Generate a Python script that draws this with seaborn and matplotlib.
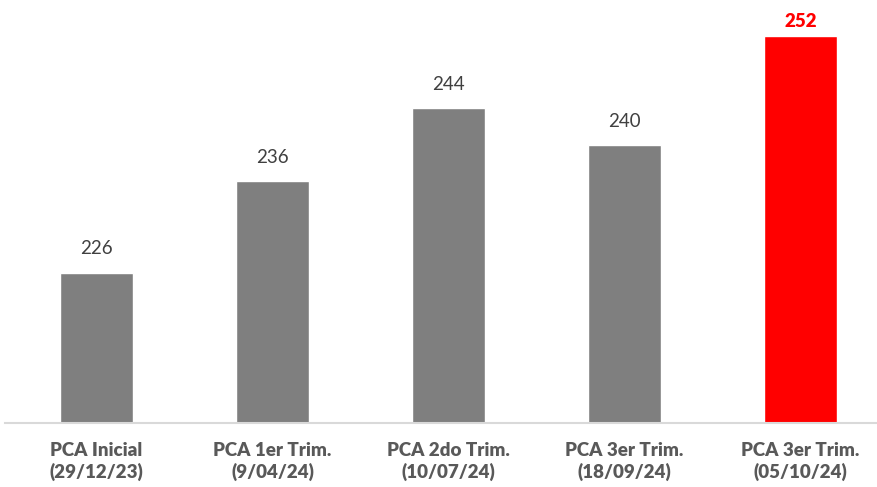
import matplotlib
matplotlib.use("Agg")
import matplotlib.pyplot as plt
import seaborn as sns
import pandas as pd

# Data
categories = ["PCA Inicial\n(29/12/23)", "PCA 1er Trim.\n(9/04/24)", "PCA 2do Trim.\n(10/07/24)",
              "PCA 3er Trim.\n(18/09/24)", "PCA 3er Trim.\n(05/10/24)"]
values = [226, 236, 244, 240, 252]
bar_colors = ["#7f7f7f", "#7f7f7f", "#7f7f7f", "#7f7f7f", "#ff0000"]

sns.set_style("white")
plt.rcParams['font.family'] = ['Lato', 'DejaVu Sans']

df = pd.DataFrame({"cat": categories, "val": values})

fig = plt.figure(figsize=(8.77, 4.87), dpi=100)
ax = fig.add_axes([5 / 877, 1 - 423 / 487, 872 / 877, 423 / 487])

sns.barplot(data=df, x="cat", y="val", hue="cat", palette=bar_colors, legend=False,
            width=0.415, saturation=1, ax=ax)

ax.set_ylim(209.5, 255.9)
ax.set_xlim(-91.5 / 176, 780.5 / 176)

for i, v in enumerate(values):
    last = i == len(values) - 1
    ax.annotate(str(v), (i, v), xytext=(0, 4 if last else 11), textcoords="offset points",
                ha="center", va="bottom", fontsize=13.5,
                color="#ff0000" if last else "#404040",
                fontweight="heavy" if last else "normal")

for s in ["top", "right", "left"]:
    ax.spines[s].set_visible(False)
ax.spines["bottom"].set_color("#d9d9d9")
ax.spines["bottom"].set_linewidth(1.5)
ax.set_yticks([])
ax.set_xlabel("")
ax.set_ylabel("")
ax.tick_params(axis="x", length=0, pad=14)
for lbl in ax.get_xticklabels():
    lbl.set_fontsize(13.5)
    lbl.set_fontweight("heavy")
    lbl.set_color("#595959")
    lbl.set_linespacing(1.25)

fig.savefig("out.png", dpi=100)
